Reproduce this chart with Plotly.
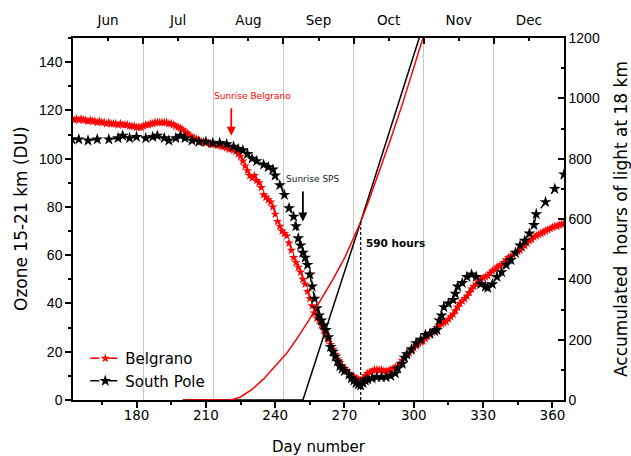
import plotly.graph_objects as go

# ---------------- data ----------------
# Belgrano ozone (DU), daily, day 152..365
belgrano_days = list(range(152, 366))
belgrano_ozone = [
    116.5, 116, 116.5, 116, 116.5, 116, 116, 115.5, 116,            # 152-160
    115.5, 115.5, 115, 115.5, 115, 115, 114.5, 115, 114.5, 114.5,   # 161-170
    114.5, 114, 114.5, 114, 114, 114, 113.5, 113.5, 113.5, 113,     # 171-180
    113, 113, 113.5, 114, 114, 114.5, 114.5, 115, 115, 115,         # 181-190
    115, 115, 115, 114.5, 114.5, 114, 113.5, 113, 112.5, 112,       # 191-200
    111, 110.5, 109.5, 109, 108.5, 108, 107.5, 107, 107, 106.5,     # 201-210
    106.5, 106, 106, 106, 105.5, 105.5, 105, 105, 104.5, 104,       # 211-220
    104, 103.5, 103, 102, 101, 99, 97, 95, 93, 92,                  # 221-230
    93, 91, 90, 88, 85, 84, 83, 82, 80, 77,                         # 231-240
    74, 72, 70, 69, 68, 65, 62, 59, 57, 55,                         # 241-250
    53, 50, 48, 45, 42, 39, 36, 34, 33, 31,                         # 251-260
    29, 27, 25, 23, 21, 19, 17, 15.5, 14, 13,                       # 261-270
    12, 11, 10, 9.5, 9, 8.5, 8, 9, 10, 11,                          # 271-280
    11.5, 12, 12.5, 12.5, 12.5, 12.5, 12, 12, 12, 12.5,             # 281-290
    13, 13.5, 14, 15, 16.5, 17.5, 18.5, 19.5, 20.5, 21.5,           # 291-300
    22.5, 23.5, 24, 24.5, 25.5, 26.5, 27, 28, 29, 30,               # 301-310
    31, 31.5, 32, 32.5, 33.5, 34.5, 35.5, 37, 38.5, 40,             # 311-320
    41, 42, 43, 44.5, 46, 47, 48, 49, 50, 50.5,                     # 321-330
    51, 51.5, 52.5, 53.5, 54, 55, 55.5, 56, 57, 58,                 # 331-340
    59, 59.5, 60, 61, 61.5, 62, 63, 64, 65, 66,                     # 341-350
    66.5, 67.5, 68, 68.5, 69, 69.5, 70, 70.5, 71, 71.5,             # 351-360
    72, 72, 72.5, 73, 73,                                           # 361-365
]

# South Pole ozone (DU)
sp_days = [152, 155, 159, 163, 168, 172, 174, 177, 180, 184, 187, 189, 192, 194, 197,
           199, 201, 204, 207, 210, 213, 216, 219, 222, 224, 226, 228, 230, 232, 235,
           237, 239, 240, 242, 244, 246, 248, 249, 250, 251, 252, 253, 254, 255, 256,
           257, 258, 259, 260, 261, 262, 263, 264, 265, 266, 267, 268, 269, 270, 272,
           273, 274, 275, 276, 277, 278, 279, 280, 282, 284, 286, 288, 290, 292, 293,
           295, 296, 297, 299, 301, 303, 305, 307, 309, 310, 311, 312, 313, 315, 317,
           318, 319, 321, 323, 325, 327, 329, 331, 332, 334, 336, 338, 340, 342, 344,
           346, 348, 350, 352, 353, 357, 361, 365]
sp_ozone = [108, 108, 107.5, 108, 108, 108.5, 109.5, 108.5, 109, 108.5, 109, 109.5, 108.5, 107.5, 108.5,
            109.5, 108.5, 107.5, 107, 107, 106.5, 106.5, 106, 105, 104, 103.5, 102, 100, 99, 97.5,
            96.5, 95.5, 93, 89, 85, 79.5, 76, 72, 67, 64, 61, 59, 56, 52, 47,
            42, 38, 35, 33, 31, 29, 26, 22, 20, 18, 16, 14, 13, 12, 10.5,
            9, 8, 7, 6.5, 6, 7, 8, 8.5, 9, 9.5, 9.5, 9.5, 10, 11, 13,
            15, 17.5, 19, 21, 23.5, 25, 27, 27.5, 28.5, 29, 33, 35, 38.5, 40, 41.5,
            44, 47, 48.5, 51, 52, 51, 48, 47, 46.5, 48, 51, 53, 56, 58, 61,
            64, 66, 69, 72.5, 77, 82, 87.5, 93.5]

# Accumulated hours of light at 18 km (right axis)
light_bel_days = [200, 221, 225, 230, 235, 240, 245, 250, 255, 260, 265, 270, 275, 277,
                  280, 285, 290, 295, 300, 304, 306]
light_bel_hours = [0, 0, 10, 35, 70, 112, 155, 210, 270, 335, 400, 470, 555, 590,
                   650, 755, 865, 980, 1100, 1200, 1250]
light_sp_days = [200, 252, 277, 302.3, 304]
light_sp_hours = [0, 0, 590, 1200, 1240]

crossing_day = 277
crossing_hours = 590

sunrise_belgrano_day = 221
sunrise_sps_day = 252

day_ticks = [180, 210, 240, 270, 300, 330, 360]
day_minor = [165, 195, 225, 255, 285, 315, 345]
months = ["Jun", "Jul", "Aug", "Sep", "Oct", "Nov", "Dec"]
month_centers = [i + 0.5 for i in range(len(months))]
month_bounds = list(range(len(months) + 1))

# ---------------- figure ----------------
TICK_FONT = dict(family="DejaVu Sans", size=13.5, color="black")
NUM_FONT = dict(family="Liberation Sans, Arial", size=14, color="black")

fig = go.Figure()

# carrier for the month axis on top (no visible marks)
fig.add_trace(go.Scatter(x=month_centers, y=[None] * len(months), xaxis="x2", yaxis="y",
                         mode="lines", showlegend=False, hoverinfo="skip"))

fig.add_trace(go.Scatter(x=light_sp_days, y=light_sp_hours, yaxis="y2", mode="lines",
                         line=dict(color="black", width=1.5), showlegend=False, hoverinfo="skip"))
fig.add_trace(go.Scatter(x=light_bel_days, y=light_bel_hours, yaxis="y2", mode="lines",
                         line=dict(color="red", width=1.5), showlegend=False, hoverinfo="skip"))
fig.add_trace(go.Scatter(x=[crossing_day, crossing_day], y=[0, crossing_hours], yaxis="y2",
                         mode="lines", line=dict(color="black", width=1.2, dash="3px,2px"),
                         showlegend=False, hoverinfo="skip"))

fig.add_trace(go.Scatter(x=belgrano_days, y=belgrano_ozone, mode="lines+markers", name="Belgrano",
                         line=dict(color="red", width=1.5, dash="dash"),
                         marker=dict(symbol="star", size=7, color="red", line=dict(width=0))))
fig.add_trace(go.Scatter(x=sp_days, y=sp_ozone, mode="lines+markers", name="South Pole",
                         line=dict(color="black", width=1.5, dash="dash"),
                         marker=dict(symbol="star", size=9, color="black", line=dict(width=0))))

annotations = [
    dict(x=sunrise_belgrano_day, y=109.5, ax=sunrise_belgrano_day, ay=121.5, xref="x", yref="y",
         axref="x", ayref="y", text="", showarrow=True, arrowhead=2, arrowsize=1,
         arrowwidth=1.8, arrowcolor="red"),
    dict(x=sunrise_sps_day, y=74, ax=sunrise_sps_day, ay=87, xref="x", yref="y",
         axref="x", ayref="y", text="", showarrow=True, arrowhead=2, arrowsize=1,
         arrowwidth=1.8, arrowcolor="black"),
    dict(x=230.3, y=126, xref="x", yref="y", text="Sunrise Belgrano", showarrow=False,
         font=dict(family="DejaVu Sans", size=9, color="red")),
    dict(x=256.5, y=91.6, xref="x", yref="y", text="Sunrise SPS", showarrow=False,
         font=dict(family="DejaVu Sans", size=9, color="#222222")),
    dict(x=278.6, y=65, xref="x", yref="y", text="<b>590 hours</b>", showarrow=False,
         xanchor="left", font=dict(family="DejaVu Sans", size=10.5, color="black")),
    dict(x=0.5, y=0, xref="paper", yref="paper", yanchor="middle", yshift=-47,
         text="Day number", showarrow=False, font=dict(family="DejaVu Sans", size=15, color="black")),
    dict(x=0, y=0.5, xref="paper", yref="paper", xanchor="center", yanchor="middle", xshift=-52,
         yshift=0, textangle=-90, text="Ozone 15-21 km (DU)", showarrow=False,
         font=dict(family="DejaVu Sans", size=17, color="black")),
    dict(x=1, y=0.5, xref="paper", yref="paper", xanchor="center", yanchor="middle", xshift=57,
         yshift=0, textangle=-90, text="Accumulated  hours of light at 18 km", showarrow=False,
         font=dict(family="DejaVu Sans", size=17, color="black")),
]

fig.update_layout(
    width=631, height=456,
    margin=dict(l=73, r=67, t=38, b=56, autoexpand=False),
    paper_bgcolor="white", plot_bgcolor="white",
    showlegend=True,
    legend=dict(x=0.025, y=0.008, xanchor="left", yanchor="bottom", bgcolor="rgba(0,0,0,0)",
                font=dict(family="DejaVu Sans", size=15, color="black"), tracegroupgap=0),
    annotations=annotations,
    xaxis=dict(range=[152.5, 365], tickmode="array", tickvals=day_ticks,
               ticks="outside", ticklen=6, tickwidth=1.5, tickcolor="black",
               ticklabelstandoff=-4,
               minor=dict(tickmode="array", tickvals=day_minor, ticks="outside", ticklen=3,
                          tickwidth=1.5, tickcolor="black", showgrid=False),
               showline=True, linewidth=1.5, linecolor="black", showgrid=False, zeroline=False,
               tickfont=TICK_FONT),
    xaxis2=dict(overlaying="x", side="top", anchor="y", range=[0, 7], tickmode="array",
                tickvals=month_centers, ticktext=months,
                ticks="inside", ticklen=3.5, tickwidth=1.5, tickcolor="black",
                ticklabelstandoff=6,
                minor=dict(tickmode="array", tickvals=month_bounds, ticks="inside", ticklen=6,
                           tickwidth=1.5, tickcolor="black", showgrid=True,
                           gridcolor="#c8c8c8", gridwidth=1),
                showline=True, linewidth=1.5, linecolor="black", showgrid=False, zeroline=False,
                tickfont=TICK_FONT),
    yaxis=dict(range=[0, 150], tickmode="linear", tick0=0, dtick=20,
               ticks="outside", ticklen=6, tickwidth=1.5, tickcolor="black",
               minor=dict(dtick=10, tick0=0, ticks="outside", ticklen=3, tickwidth=1.5,
                          tickcolor="black", showgrid=False),
               showline=True, linewidth=1.5, linecolor="black", showgrid=False, zeroline=False,
               tickfont=NUM_FONT),
    yaxis2=dict(overlaying="y", side="right", anchor="x", range=[0, 1200], tickmode="linear",
                tick0=0, dtick=200, ticks="inside", ticklen=6, tickwidth=1.5, tickcolor="black",
                minor=dict(dtick=100, tick0=0, ticks="inside", ticklen=3, tickwidth=1.5,
                           tickcolor="black", showgrid=False),
                showline=True, linewidth=1.5, linecolor="black", showgrid=False, zeroline=False,
                tickfont=NUM_FONT),
)

fig.write_html("out.html", config={"displayModeBar": False},
               post_script="document.body.style.margin='0';")
